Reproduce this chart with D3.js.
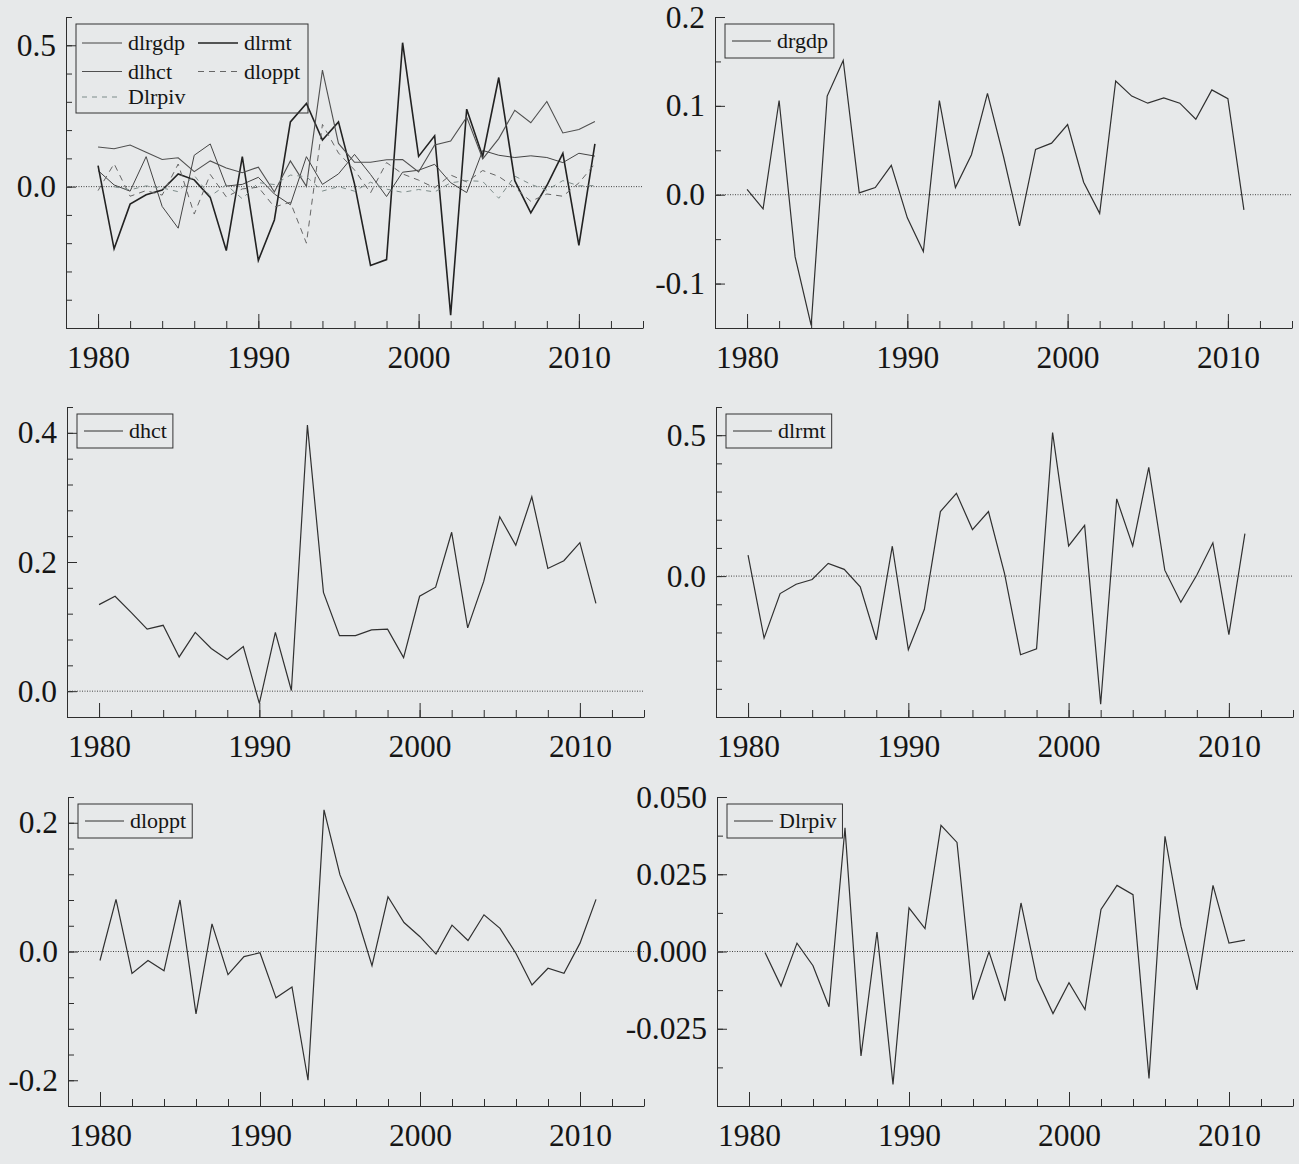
<!DOCTYPE html>
<html lang="en">
<head>
  <meta charset="utf-8">
  <script src="https://d3js.org/d3.v7.min.js"></script>
  <style>
    body { margin: 0; background: #e7e9ea; }
    text { font-family: "Liberation Serif", "Times New Roman", serif; fill: #151515; }
  </style>
</head>
<body>
<div id="chart"></div>
<script>

// years on the x axis
var years = [1980, 1981, 1982, 1983, 1984, 1985, 1986, 1987, 1988, 1989,
             1990, 1991, 1992, 1993, 1994, 1995, 1996, 1997, 1998, 1999,
             2000, 2001, 2002, 2003, 2004, 2005, 2006, 2007, 2008, 2009,
             2010, 2011];
var yearTicks = [1980, 1990, 2000, 2010];

// series
var drgdp = [0.006, -0.016, 0.106, -0.070, -0.147, 0.111, 0.151, 0.002, 0.008, 0.033,
             -0.026, -0.064, 0.106, 0.008, 0.045, 0.114, 0.043, -0.035, 0.051, 0.058,
             0.079, 0.014, -0.021, 0.128, 0.111, 0.103, 0.109, 0.103, 0.085, 0.118,
             0.108, -0.017];
var dhct = [0.134, 0.147, 0.122, 0.096, 0.102, 0.053, 0.091, 0.066, 0.049, 0.069,
            -0.019, 0.091, 0.001, 0.412, 0.153, 0.086, 0.086, 0.095, 0.096, 0.052,
            0.147, 0.161, 0.246, 0.098, 0.170, 0.270, 0.226, 0.301, 0.190, 0.202,
            0.230, 0.136];
var dlrmt = [0.074, -0.220, -0.062, -0.029, -0.012, 0.045, 0.024, -0.038, -0.226, 0.106,
             -0.261, -0.118, 0.229, 0.294, 0.165, 0.229, 0.010, -0.279, -0.258, 0.509,
             0.107, 0.180, -0.455, 0.274, 0.107, 0.386, 0.021, -0.093, 0.004, 0.118,
             -0.208, 0.151];
var dloppt = [-0.014, 0.081, -0.034, -0.014, -0.030, 0.080, -0.097, 0.043, -0.036, -0.008,
              -0.002, -0.072, -0.055, -0.200, 0.220, 0.119, 0.059, -0.022, 0.085, 0.045,
              0.023, -0.004, 0.041, 0.017, 0.057, 0.036, -0.003, -0.052, -0.026, -0.034,
              0.013, 0.081];
var dlrpiv = [null, -0.0003, -0.0112, 0.0027, -0.0046, -0.0179, 0.0400, -0.0338, 0.0063, -0.0430,
              0.0141, 0.0074, 0.0408, 0.0353, -0.0156, -0.0001, -0.0160, 0.0157, -0.0089, -0.0201,
              -0.0101, -0.0188, 0.0136, 0.0214, 0.0184, -0.0411, 0.0373, 0.0082, -0.0124, 0.0214,
              0.0027, 0.0037];
// the combined panel
var dlrgdp = [0.057, 0.006, -0.016, 0.106, -0.070, -0.147, 0.111, 0.151, 0.002, 0.008,
              0.033, -0.026, -0.064, 0.106, 0.008, 0.045, 0.114, 0.043, -0.035, 0.051,
              0.058, 0.079, 0.014, -0.021, 0.128, 0.111, 0.103, 0.109, 0.103, 0.085,
              0.118, 0.108];
var dlhct = [0.140, 0.134, 0.147, 0.122, 0.096, 0.102, 0.053, 0.091, 0.066, 0.049,
             0.069, -0.019, 0.091, 0.001, 0.412, 0.153, 0.086, 0.086, 0.095, 0.096,
             0.052, 0.147, 0.161, 0.246, 0.098, 0.170, 0.270, 0.226, 0.301, 0.190,
             0.202, 0.230];

var lineSolid = {stroke: "#303030", width: 1.2, dash: null};

var panels = [
  {x: 66, y: 17, w: 577, h: 311, dom: [-0.5, 0.6], step: 0.1, labels: [0, 0.5], fmt: ".1f",
   series: [
     {name: "dlrgdp", values: dlrgdp, stroke: "#444", width: 1, dash: null},
     {name: "dlrmt", values: dlrmt, stroke: "#222", width: 1.6, dash: null},
     {name: "dlhct", values: dlhct, stroke: "#505050", width: 1.1, dash: null},
     {name: "dloppt", values: dloppt, stroke: "#666", width: 1, dash: "6,5"},
     {name: "Dlrpiv", values: dlrpiv, stroke: "#7d8c8a", width: 1, dash: "5,5"}
   ]},
  {x: 715, y: 17, w: 577, h: 311, dom: [-0.15, 0.2], step: 0.05, labels: [-0.1, 0, 0.1, 0.2], fmt: ".1f",
   series: [Object.assign({name: "drgdp", values: drgdp}, lineSolid)]},
  {x: 67, y: 407, w: 577, h: 310, dom: [-0.04, 0.44], step: 0.04, labels: [0, 0.2, 0.4], fmt: ".1f",
   series: [Object.assign({name: "dhct", values: dhct}, lineSolid)]},
  {x: 716, y: 407, w: 577, h: 310, dom: [-0.5, 0.6], step: 0.1, labels: [0, 0.5], fmt: ".1f",
   series: [Object.assign({name: "dlrmt", values: dlrmt}, lineSolid)]},
  {x: 68, y: 797, w: 576, h: 309, dom: [-0.24, 0.24], step: 0.04, labels: [-0.2, 0, 0.2], fmt: ".1f",
   series: [Object.assign({name: "dloppt", values: dloppt}, lineSolid)]},
  {x: 717, y: 797, w: 576, h: 309, dom: [-0.05, 0.05], step: 0.0125, labels: [-0.025, 0, 0.025, 0.05], fmt: ".3f",
   series: [Object.assign({name: "Dlrpiv", values: dlrpiv}, lineSolid)]}
];

var svg = d3.select("#chart")
  .append("svg")
    .attr("width", 1299)
    .attr("height", 1164);

panels.forEach(function(p, pi) {
  var g = svg.append("g")
    .attr("transform", "translate(" + p.x + "," + p.y + ")");

  var x = d3.scaleLinear().domain([1978, 2014]).range([0, p.w]);
  var y = d3.scaleLinear().domain(p.dom).range([p.h, 0]);

  var n = Math.round((p.dom[1] - p.dom[0]) / p.step);
  var minor = d3.range(n + 1).map(function(i) { return p.dom[0] + i * p.step; });

  // y axis: minor then labelled ticks, pointing inward
  g.append("g")
    .call(d3.axisLeft(y).tickValues(minor).tickSize(-6).tickSizeOuter(0).tickFormat(""));
  g.append("g")
    .call(d3.axisLeft(y).tickValues(p.labels).tickSize(-10).tickPadding(10)
      .tickFormat(function(d) { return d3.format(p.fmt)(d).replace("−", "-"); }))
    .call(function(a) { a.select(".domain").remove(); })
    .selectAll("text").style("font-size", "31.5px");

  // x axis
  g.append("g")
    .attr("transform", "translate(0," + p.h + ")")
    .call(d3.axisBottom(x).tickValues(d3.range(1980, 2015, 2)).tickSize(-7).tickSizeOuter(0).tickFormat(""));
  g.append("g")
    .attr("transform", "translate(0," + p.h + ")")
    .call(d3.axisBottom(x).tickValues(yearTicks).tickSize(-14).tickPadding(18).tickFormat(d3.format("d")))
    .call(function(a) { a.select(".domain").remove(); })
    .selectAll("text").style("font-size", "31.5px");

  g.selectAll(".tick line, .domain").attr("stroke", "#2e2e2e");

  // dotted zero line
  g.append("line")
    .attr("x1", 0).attr("x2", p.w)
    .attr("y1", y(0)).attr("y2", y(0))
    .attr("stroke", "#444").attr("stroke-width", 1)
    .attr("stroke-dasharray", "1,1.5");

  var line = d3.line()
    .defined(function(d) { return d != null; })
    .x(function(d, i) { return x(years[i]); })
    .y(function(d) { return y(d); });

  p.series.forEach(function(s) {
    g.append("path")
      .datum(s.values)
      .attr("fill", "none")
      .attr("stroke", s.stroke)
      .attr("stroke-width", s.width)
      .attr("stroke-dasharray", s.dash)
      .attr("stroke-linejoin", "miter")
      .attr("d", line);
  });

  // legend
  var lg = g.append("g").attr("transform", "translate(10,7)");
  var box = lg.append("rect")
    .attr("fill", "none").attr("stroke", "#333").attr("stroke-width", 1);

  if (pi == 0) {
    var cols = [6, 122], rows = [19, 47.5, 73];
    p.series.forEach(function(s, i) {
      var cx = cols[i % 2], cy = rows[Math.floor(i / 2)];
      lg.append("line")
        .attr("x1", cx).attr("x2", cx + 40).attr("y1", cy).attr("y2", cy)
        .attr("stroke", s.stroke).attr("stroke-width", s.width).attr("stroke-dasharray", s.dash);
      lg.append("text")
        .attr("x", cx + 46).attr("y", cy).attr("dy", "0.32em")
        .style("font-size", "22px")
        .text(s.name);
    });
    box.attr("width", 232).attr("height", 89);
  } else {
    var s = p.series[0];
    lg.append("line")
      .attr("x1", 7).attr("x2", 46).attr("y1", 17).attr("y2", 17)
      .attr("stroke", s.stroke).attr("stroke-width", 1);
    var t = lg.append("text")
      .attr("x", 52).attr("y", 17).attr("dy", "0.32em")
      .style("font-size", "22px")
      .text(s.name);
    box.attr("width", 52 + t.node().getComputedTextLength() + 6).attr("height", 34);
  }
});

</script>
</body>
</html>
